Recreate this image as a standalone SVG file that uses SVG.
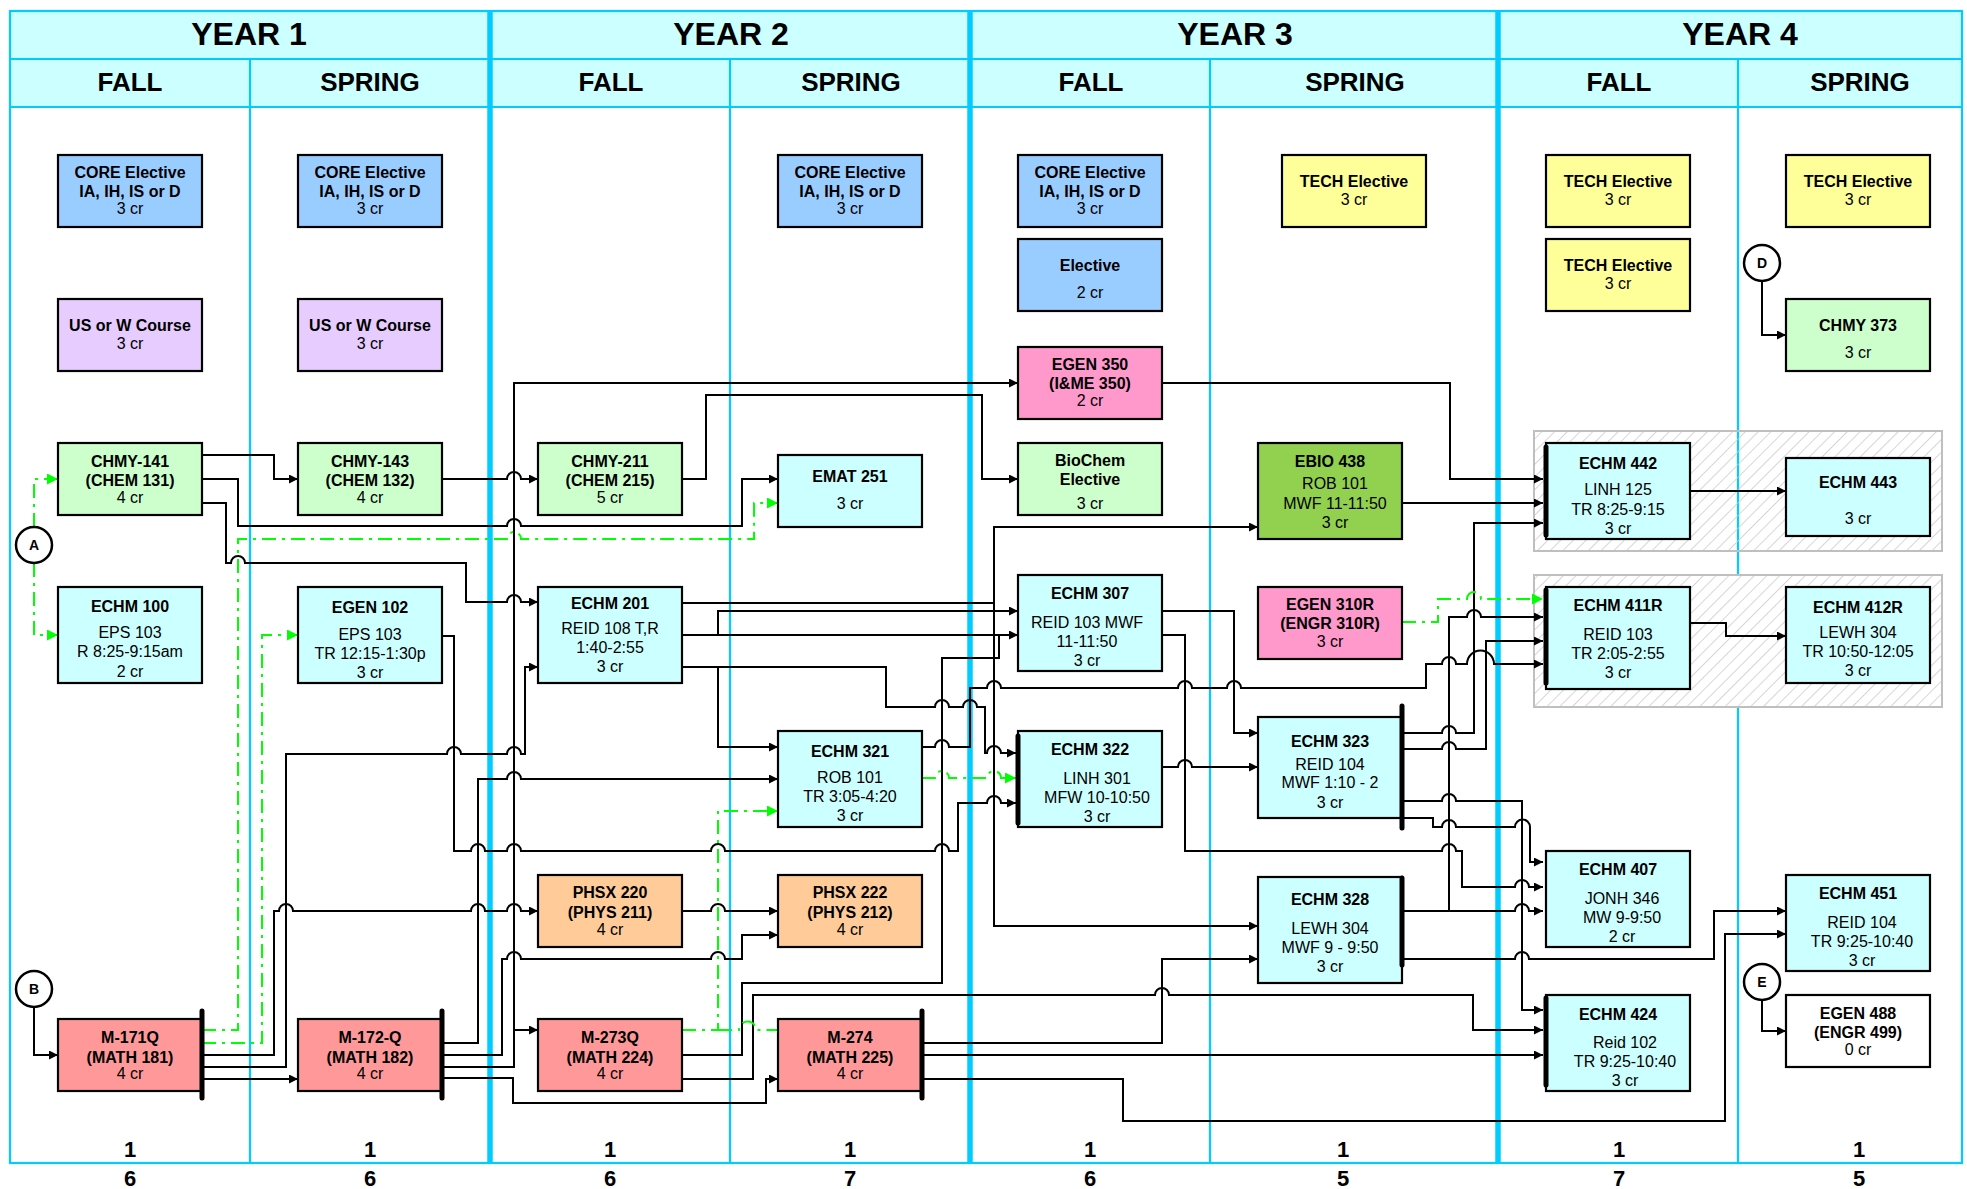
<svg xmlns="http://www.w3.org/2000/svg" width="1967" height="1189" viewBox="0 0 1967 1189">
<style>
text{font-family:"Liberation Sans",Arial,sans-serif;text-anchor:middle;fill:#000}
.hy{font-size:32px;font-weight:bold}
.hs{font-size:26px;font-weight:bold}
.tot{font-size:22px;font-weight:bold}
.b{font-size:16px;font-weight:bold}
.n{font-size:16px}
.cl{font-size:14px;font-weight:bold}
.box{stroke:#000;stroke-width:2.2}
.blue{fill:#99CCFF}.purp{fill:#E6CCFF}.grn{fill:#CCFFCC}.cyan{fill:#CCFFFF}.red{fill:#FF9999}.org{fill:#FFCC99}.pink{fill:#FF99CC}.yel{fill:#FFFF99}.lime{fill:#92D050}.wht{fill:#FFFFFF}
.bar{stroke:#000;stroke-width:5;stroke-linecap:round}
.c{stroke:#000;stroke-width:2;fill:none}
.ca{stroke:#000;stroke-width:2;fill:none;marker-end:url(#ah)}
.g{stroke:#00FF00;stroke-width:2;fill:none;stroke-dasharray:14 6 3 6}
.ga{stroke:#00FF00;stroke-width:2;fill:none;stroke-dasharray:14 6 3 6;marker-end:url(#ga)}
.thin{stroke:#00CCFF;stroke-width:2.2}
.thick{stroke:#00CCFF;stroke-width:5.5}
.circ{fill:#fff;stroke:#000;stroke-width:2.5}
</style>
<defs>
<marker id="ah" viewBox="0 0 10 10" refX="10" refY="5" markerWidth="11" markerHeight="9" markerUnits="userSpaceOnUse" orient="auto"><path d="M0,0 L10,5 L0,10 z" fill="#000"/></marker>
<marker id="ga" viewBox="0 0 10 10" refX="10" refY="5" markerWidth="13" markerHeight="11" markerUnits="userSpaceOnUse" orient="auto"><path d="M0,0 L10,5 L0,10 z" fill="#00FF00"/></marker>
<pattern id="hatch" width="9" height="9" patternUnits="userSpaceOnUse" patternTransform="rotate(45)"><line x1="0" y1="0" x2="0" y2="9" stroke="#C8C8C8" stroke-width="1.5"/></pattern>
</defs>
<rect x="0" y="0" width="1967" height="1189" fill="#fff"/>
<g id="grid">
<rect x="10" y="11" width="1952" height="96" fill="#CCFFFF"/>
<rect x="10" y="11" width="1952" height="1152" fill="none" class="thin"/>
<line x1="10" y1="59" x2="1962" y2="59" class="thin"/>
<line x1="10" y1="107" x2="1962" y2="107" class="thin"/>
<line x1="250" y1="59" x2="250" y2="1163" class="thin"/>
<line x1="730" y1="59" x2="730" y2="1163" class="thin"/>
<line x1="1210" y1="59" x2="1210" y2="1163" class="thin"/>
<line x1="1738" y1="59" x2="1738" y2="1163" class="thin"/>
<line x1="490" y1="11" x2="490" y2="1163" class="thick"/>
<line x1="970" y1="11" x2="970" y2="1163" class="thick"/>
<line x1="1498" y1="11" x2="1498" y2="1163" class="thick"/>
<text x="249" y="45" class="hy">YEAR 1</text>
<text x="731" y="45" class="hy">YEAR 2</text>
<text x="1235" y="45" class="hy">YEAR 3</text>
<text x="1740" y="45" class="hy">YEAR 4</text>
<text x="130" y="91" class="hs">FALL</text>
<text x="370" y="91" class="hs">SPRING</text>
<text x="611" y="91" class="hs">FALL</text>
<text x="851" y="91" class="hs">SPRING</text>
<text x="1091" y="91" class="hs">FALL</text>
<text x="1355" y="91" class="hs">SPRING</text>
<text x="1619" y="91" class="hs">FALL</text>
<text x="1860" y="91" class="hs">SPRING</text>
<text x="130" y="1157" class="tot">1</text><text x="130" y="1186" class="tot">6</text>
<text x="370" y="1157" class="tot">1</text><text x="370" y="1186" class="tot">6</text>
<text x="610" y="1157" class="tot">1</text><text x="610" y="1186" class="tot">6</text>
<text x="850" y="1157" class="tot">1</text><text x="850" y="1186" class="tot">7</text>
<text x="1090" y="1157" class="tot">1</text><text x="1090" y="1186" class="tot">6</text>
<text x="1343" y="1157" class="tot">1</text><text x="1343" y="1186" class="tot">5</text>
<text x="1619" y="1157" class="tot">1</text><text x="1619" y="1186" class="tot">7</text>
<text x="1859" y="1157" class="tot">1</text><text x="1859" y="1186" class="tot">5</text>
</g>
<g id="groups">
<rect x="1534" y="431" width="408" height="120" fill="url(#hatch)" stroke="#BFBFBF" stroke-width="2"/>
<rect x="1534" y="575" width="408" height="132" fill="#fff" stroke="none"/>
<rect x="1534" y="575" width="408" height="132" fill="url(#hatch)" stroke="#BFBFBF" stroke-width="2"/>
</g>
<g id="connectors">
<path class="ca" d="M202,455 H274 V479 H298"/>
<path class="ca" d="M202,479 H238 V526 H507 A7,7 0 0 1 521,526 H742 V479 H778"/>
<path class="ca" d="M202,503 H226 V563 H231 A7,7 0 0 1 245,563 H466 V602 H507 A7,7 0 0 1 521,602 H538"/>
<path class="ca" d="M442,479 H507 A7,7 0 0 1 521,479 H538"/>
<path class="ca" d="M682,479 H706 V395 H982 V479 H1018"/>
<path class="ca" d="M442,1067 H514 V383 H1018"/>
<path class="ca" d="M514,1030 H538"/>
<path class="ca" d="M1162,383 H1450 V479 H1543"/>
<path class="ca" d="M1402,503 H1543"/>
<path class="ca" d="M1404,733 H1442 A7,7 0 0 1 1456,733 H1474 V523 H1543"/>
<path class="ca" d="M1690,491 H1786"/>
<path class="ca" d="M1690,623 H1726 V636 H1786"/>
<path class="ca" d="M1449,911 V617 H1467 A7,7 0 0 1 1481,617 H1543"/>
<path class="ca" d="M1404,749 H1442 A7,7 0 0 1 1456,749 H1486 V641 H1543"/>
<path class="ca" d="M922,747 H935 A7,7 0 0 1 949,747 H970 V688 H987 A7,7 0 0 1 1001,688 H1178 A7,7 0 0 1 1192,688 H1227 A7,7 0 0 1 1241,688 H1426 V664 H1442 A7,7 0 0 1 1456,664 H1467 A13.5,13.5 0 0 1 1494,664 H1543"/>
<path class="ca" d="M682,635 H1018"/>
<path class="ca" d="M718,635 V611 H1018"/>
<path class="ca" d="M682,603 H994 V527 H1258"/>
<path class="ca" d="M994,603 V926 H1258"/>
<path class="c" d="M682,1055 H742 V983 H942 V658 H999 V635"/>
<path class="ca" d="M682,667 H886 V707 H935 A7,7 0 0 1 949,707 H963 A7,7 0 0 1 977,707 H985 V753 H987 A7,7 0 0 1 1001,753 H1016"/>
<path class="ca" d="M718,667 V747 H778"/>
<path class="ca" d="M202,1055 H274 V911 H279 A7,7 0 0 1 293,911 H471 A7,7 0 0 1 485,911 H507 A7,7 0 0 1 521,911 H538"/>
<path class="ca" d="M202,1067 H286 V754 H447 A7,7 0 0 1 461,754 H507 A7,7 0 0 1 521,754 H525 V667 H538"/>
<path class="ca" d="M202,1079 H298"/>
<path class="ca" d="M442,1043 H478 V779 H507 A7,7 0 0 1 521,779 H778"/>
<path class="ca" d="M442,1055 H502 V959 H507 A7,7 0 0 1 521,959 H711 A7,7 0 0 1 725,959 H742 V935 H778"/>
<path class="ca" d="M442,1078 H513 V1103 H766 V1079 H778"/>
<path class="ca" d="M442,636 H454 V851 H471 A7,7 0 0 1 485,851 H507 A7,7 0 0 1 521,851 H711 A7,7 0 0 1 725,851 H935 A7,7 0 0 1 949,851 H958 V803 H987 A7,7 0 0 1 1001,803 H1016"/>
<path class="ca" d="M682,911 H711 A7,7 0 0 1 725,911 H778"/>
<path class="ca" d="M682,1079 H753 V995 H1155 A7,7 0 0 1 1169,995 H1473 V1030 H1543"/>
<path class="ca" d="M922,1043 H1162 V959 H1258"/>
<path class="ca" d="M922,1055 H1543"/>
<path class="ca" d="M922,1079 H1123 V1121 H1725 V934 H1786"/>
<path class="ca" d="M1404,959 H1515 A7,7 0 0 1 1529,959 H1714 V911 H1786"/>
<path class="ca" d="M1162,611 H1234 V733 H1258"/>
<path class="ca" d="M1162,635 H1185 V851 H1442 A7,7 0 0 1 1456,851 H1462 V887 H1515 A7,7 0 0 1 1529,887 H1543"/>
<path class="ca" d="M1162,767 H1178 A7,7 0 0 1 1192,767 H1258"/>
<path class="ca" d="M1404,801 H1442 A7,7 0 0 1 1456,801 H1522 V1010 H1543"/>
<path class="ca" d="M1404,818 H1433 V827 H1442 A7,7 0 0 1 1456,827 H1515 A7.5,7.5 0 0 1 1530,827 V862 H1543"/>
<path class="ca" d="M1404,911 H1515 A7,7 0 0 1 1529,911 H1543"/>
<path class="ca" d="M1762,1000 V1031 H1786"/>
<path class="ca" d="M1762,281 V335 H1786"/>
<path class="ca" d="M34,1007 V1055 H58"/>
<path class="ga" d="M34,527 V479 H58"/>
<path class="ga" d="M34,563 V635 H58"/>
<path class="ga" d="M202,1030 H238 V539 H507 A7,7 0 0 1 521,539 H754 V503 H778"/>
<path class="ga" d="M202,1043 H262 V635 H298"/>
<path class="ga" d="M682,1030 H718 V811 H778"/>
<path class="g" d="M718,1030 H739 A8.5,8.5 0 0 1 756,1030 H778"/>
<path class="ga" d="M922,778 H935 A7,7 0 0 1 949,778 H987 A7,7 0 0 1 1001,778 H1016"/>
<path class="ga" d="M1402,622 H1438 V599 H1467 A7,7 0 0 1 1481,599 H1543"/>
</g>
<g id="circle-A"><circle cx="34" cy="545" r="18" class="circ"/><text x="34" y="550" class="cl">A</text></g>
<g id="circle-B"><circle cx="34" cy="989" r="18" class="circ"/><text x="34" y="994" class="cl">B</text></g>
<g id="circle-D"><circle cx="1762" cy="263" r="18" class="circ"/><text x="1762" y="268" class="cl">D</text></g>
<g id="circle-E"><circle cx="1762" cy="982" r="18" class="circ"/><text x="1762" y="987" class="cl">E</text></g>
<g id="core-y1f"><rect x="58" y="155" width="144" height="72" class="box blue"/><text x="130" y="178" class="b">CORE Elective</text><text x="130" y="197" class="b">IA, IH, IS or D</text><text x="130" y="214" class="n">3 cr</text></g>
<g id="core-y1s"><rect x="298" y="155" width="144" height="72" class="box blue"/><text x="370" y="178" class="b">CORE Elective</text><text x="370" y="197" class="b">IA, IH, IS or D</text><text x="370" y="214" class="n">3 cr</text></g>
<g id="core-y2s"><rect x="778" y="155" width="144" height="72" class="box blue"/><text x="850" y="178" class="b">CORE Elective</text><text x="850" y="197" class="b">IA, IH, IS or D</text><text x="850" y="214" class="n">3 cr</text></g>
<g id="core-y3f"><rect x="1018" y="155" width="144" height="72" class="box blue"/><text x="1090" y="178" class="b">CORE Elective</text><text x="1090" y="197" class="b">IA, IH, IS or D</text><text x="1090" y="214" class="n">3 cr</text></g>
<g id="elective-y3f"><rect x="1018" y="239" width="144" height="72" class="box blue"/><text x="1090" y="271" class="b">Elective</text><text x="1090" y="298" class="n">2 cr</text></g>
<g id="usw-y1f"><rect x="58" y="299" width="144" height="72" class="box purp"/><text x="130" y="331" class="b">US or W Course</text><text x="130" y="349" class="n">3 cr</text></g>
<g id="usw-y1s"><rect x="298" y="299" width="144" height="72" class="box purp"/><text x="370" y="331" class="b">US or W Course</text><text x="370" y="349" class="n">3 cr</text></g>
<g id="tech-y3s"><rect x="1282" y="155" width="144" height="72" class="box yel"/><text x="1354" y="187" class="b">TECH Elective</text><text x="1354" y="205" class="n">3 cr</text></g>
<g id="tech-y4f-1"><rect x="1546" y="155" width="144" height="72" class="box yel"/><text x="1618" y="187" class="b">TECH Elective</text><text x="1618" y="205" class="n">3 cr</text></g>
<g id="tech-y4f-2"><rect x="1546" y="239" width="144" height="72" class="box yel"/><text x="1618" y="271" class="b">TECH Elective</text><text x="1618" y="289" class="n">3 cr</text></g>
<g id="tech-y4s"><rect x="1786" y="155" width="144" height="72" class="box yel"/><text x="1858" y="187" class="b">TECH Elective</text><text x="1858" y="205" class="n">3 cr</text></g>
<g id="chmy373"><rect x="1786" y="299" width="144" height="72" class="box grn"/><text x="1858" y="331" class="b">CHMY 373</text><text x="1858" y="358" class="n">3 cr</text></g>
<g id="egen350"><rect x="1018" y="347" width="144" height="72" class="box pink"/><text x="1090" y="370" class="b">EGEN 350</text><text x="1090" y="389" class="b">(I&amp;ME 350)</text><text x="1090" y="406" class="n">2 cr</text></g>
<g id="chmy141"><rect x="58" y="443" width="144" height="72" class="box grn"/><text x="130" y="467" class="b">CHMY-141</text><text x="130" y="486" class="b">(CHEM 131)</text><text x="130" y="503" class="n">4 cr</text></g>
<g id="chmy143"><rect x="298" y="443" width="144" height="72" class="box grn"/><text x="370" y="467" class="b">CHMY-143</text><text x="370" y="486" class="b">(CHEM 132)</text><text x="370" y="503" class="n">4 cr</text></g>
<g id="chmy211"><rect x="538" y="443" width="144" height="72" class="box grn"/><text x="610" y="467" class="b">CHMY-211</text><text x="610" y="486" class="b">(CHEM 215)</text><text x="610" y="503" class="n">5 cr</text></g>
<g id="emat251"><rect x="778" y="455" width="144" height="72" class="box cyan"/><text x="850" y="482" class="b">EMAT 251</text><text x="850" y="509" class="n">3 cr</text></g>
<g id="biochem"><rect x="1018" y="443" width="144" height="72" class="box grn"/><text x="1090" y="466" class="b">BioChem</text><text x="1090" y="485" class="b">Elective</text><text x="1090" y="509" class="n">3 cr</text></g>
<g id="ebio438"><rect x="1258" y="443" width="144" height="96" class="box lime"/><text x="1330" y="467" class="b">EBIO 438</text><text x="1335" y="489" class="n">ROB 101</text><text x="1335" y="509" class="n">MWF 11-11:50</text><text x="1335" y="528" class="n">3 cr</text></g>
<g id="echm442"><rect x="1546" y="443" width="144" height="96" class="box cyan"/><text x="1618" y="469" class="b">ECHM 442</text><text x="1618" y="495" class="n">LINH 125</text><text x="1618" y="515" class="n">TR 8:25-9:15</text><text x="1618" y="534" class="n">3 cr</text><line x1="1546" y1="447" x2="1546" y2="535" class="bar"/></g>
<g id="echm443"><rect x="1786" y="458" width="144" height="78" class="box cyan"/><text x="1858" y="488" class="b">ECHM 443</text><text x="1858" y="524" class="n">3 cr</text></g>
<g id="echm100"><rect x="58" y="587" width="144" height="96" class="box cyan"/><text x="130" y="612" class="b">ECHM 100</text><text x="130" y="638" class="n">EPS 103</text><text x="130" y="657" class="n">R 8:25-9:15am</text><text x="130" y="677" class="n">2 cr</text></g>
<g id="egen102"><rect x="298" y="587" width="144" height="96" class="box cyan"/><text x="370" y="613" class="b">EGEN 102</text><text x="370" y="640" class="n">EPS 103</text><text x="370" y="659" class="n">TR 12:15-1:30p</text><text x="370" y="678" class="n">3 cr</text></g>
<g id="echm201"><rect x="538" y="587" width="144" height="96" class="box cyan"/><text x="610" y="609" class="b">ECHM 201</text><text x="610" y="634" class="n">REID 108 T,R</text><text x="610" y="653" class="n">1:40-2:55</text><text x="610" y="672" class="n">3 cr</text></g>
<g id="echm307"><rect x="1018" y="575" width="144" height="96" class="box cyan"/><text x="1090" y="599" class="b">ECHM 307</text><text x="1087" y="628" class="n">REID 103 MWF</text><text x="1087" y="647" class="n">11-11:50</text><text x="1087" y="666" class="n">3 cr</text></g>
<g id="egen310r"><rect x="1258" y="587" width="144" height="72" class="box pink"/><text x="1330" y="610" class="b">EGEN 310R</text><text x="1330" y="629" class="b">(ENGR 310R)</text><text x="1330" y="647" class="n">3 cr</text></g>
<g id="echm411r"><rect x="1546" y="587" width="144" height="102" class="box cyan"/><text x="1618" y="611" class="b">ECHM 411R</text><text x="1618" y="640" class="n">REID 103</text><text x="1618" y="659" class="n">TR 2:05-2:55</text><text x="1618" y="678" class="n">3 cr</text><line x1="1546" y1="590" x2="1546" y2="683" class="bar"/></g>
<g id="echm412r"><rect x="1786" y="587" width="144" height="96" class="box cyan"/><text x="1858" y="613" class="b">ECHM 412R</text><text x="1858" y="638" class="n">LEWH 304</text><text x="1858" y="657" class="n">TR 10:50-12:05</text><text x="1858" y="676" class="n">3 cr</text></g>
<g id="echm321"><rect x="778" y="731" width="144" height="96" class="box cyan"/><text x="850" y="757" class="b">ECHM 321</text><text x="850" y="783" class="n">ROB 101</text><text x="850" y="802" class="n">TR 3:05-4:20</text><text x="850" y="821" class="n">3 cr</text></g>
<g id="echm322"><rect x="1018" y="731" width="144" height="96" class="box cyan"/><text x="1090" y="755" class="b">ECHM 322</text><text x="1097" y="784" class="n">LINH 301</text><text x="1097" y="803" class="n">MFW 10-10:50</text><text x="1097" y="822" class="n">3 cr</text><line x1="1018" y1="736" x2="1018" y2="823" class="bar"/></g>
<g id="echm323"><rect x="1258" y="717" width="144" height="101" class="box cyan"/><text x="1330" y="747" class="b">ECHM 323</text><text x="1330" y="770" class="n">REID 104</text><text x="1330" y="788" class="n">MWF 1:10 - 2</text><text x="1330" y="808" class="n">3 cr</text><line x1="1402" y1="706" x2="1402" y2="828" class="bar"/></g>
<g id="echm407"><rect x="1546" y="851" width="144" height="96" class="box cyan"/><text x="1618" y="875" class="b">ECHM 407</text><text x="1622" y="904" class="n">JONH 346</text><text x="1622" y="923" class="n">MW 9-9:50</text><text x="1622" y="942" class="n">2 cr</text></g>
<g id="phsx220"><rect x="538" y="875" width="144" height="72" class="box org"/><text x="610" y="898" class="b">PHSX 220</text><text x="610" y="918" class="b">(PHYS 211)</text><text x="610" y="935" class="n">4 cr</text></g>
<g id="phsx222"><rect x="778" y="875" width="144" height="72" class="box org"/><text x="850" y="898" class="b">PHSX 222</text><text x="850" y="918" class="b">(PHYS 212)</text><text x="850" y="935" class="n">4 cr</text></g>
<g id="echm328"><rect x="1258" y="877" width="144" height="106" class="box cyan"/><text x="1330" y="905" class="b">ECHM 328</text><text x="1330" y="934" class="n">LEWH 304</text><text x="1330" y="953" class="n">MWF 9 - 9:50</text><text x="1330" y="972" class="n">3 cr</text><line x1="1402" y1="878" x2="1402" y2="965" class="bar"/></g>
<g id="echm451"><rect x="1786" y="875" width="144" height="96" class="box cyan"/><text x="1858" y="899" class="b">ECHM 451</text><text x="1862" y="928" class="n">REID 104</text><text x="1862" y="947" class="n">TR 9:25-10:40</text><text x="1862" y="966" class="n">3 cr</text></g>
<g id="echm424"><rect x="1546" y="995" width="144" height="96" class="box cyan"/><text x="1618" y="1020" class="b">ECHM 424</text><text x="1625" y="1048" class="n">Reid 102</text><text x="1625" y="1067" class="n">TR 9:25-10:40</text><text x="1625" y="1086" class="n">3 cr</text><line x1="1546" y1="998" x2="1546" y2="1085" class="bar"/></g>
<g id="egen488"><rect x="1786" y="995" width="144" height="72" class="box wht"/><text x="1858" y="1019" class="b">EGEN 488</text><text x="1858" y="1038" class="b">(ENGR 499)</text><text x="1858" y="1055" class="n">0 cr</text></g>
<g id="m171q"><rect x="58" y="1019" width="144" height="72" class="box red"/><text x="130" y="1043" class="b">M-171Q</text><text x="130" y="1063" class="b">(MATH 181)</text><text x="130" y="1079" class="n">4 cr</text><line x1="202" y1="1011" x2="202" y2="1098" class="bar"/></g>
<g id="m172q"><rect x="298" y="1019" width="144" height="72" class="box red"/><text x="370" y="1043" class="b">M-172-Q</text><text x="370" y="1063" class="b">(MATH 182)</text><text x="370" y="1079" class="n">4 cr</text><line x1="442" y1="1011" x2="442" y2="1098" class="bar"/></g>
<g id="m273q"><rect x="538" y="1019" width="144" height="72" class="box red"/><text x="610" y="1043" class="b">M-273Q</text><text x="610" y="1063" class="b">(MATH 224)</text><text x="610" y="1079" class="n">4 cr</text></g>
<g id="m274"><rect x="778" y="1019" width="144" height="72" class="box red"/><text x="850" y="1043" class="b">M-274</text><text x="850" y="1063" class="b">(MATH 225)</text><text x="850" y="1079" class="n">4 cr</text><line x1="922" y1="1011" x2="922" y2="1098" class="bar"/></g>
</svg>
